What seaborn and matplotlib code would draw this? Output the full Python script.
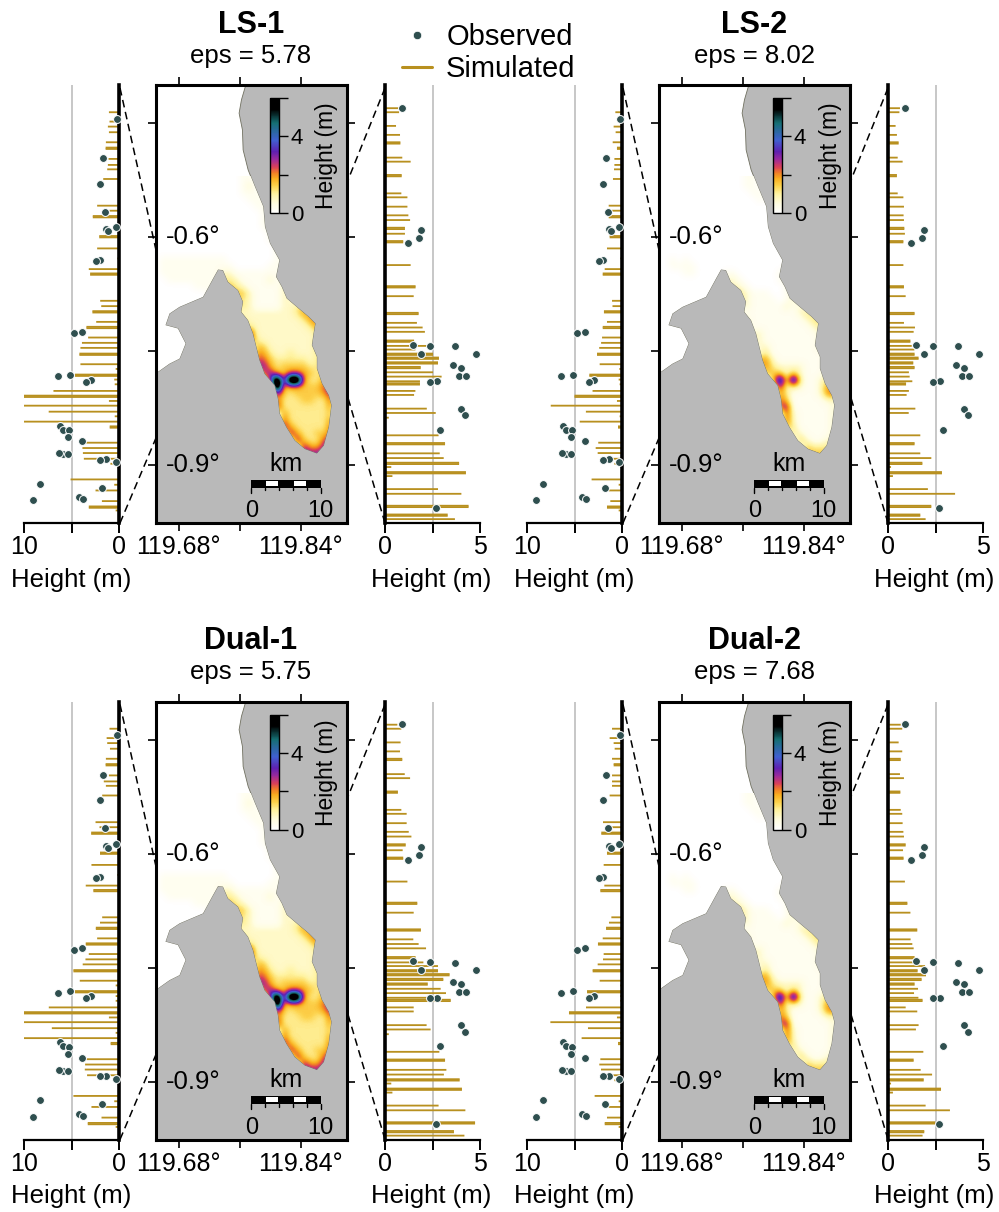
import numpy as np
import pandas as pd
import seaborn as sns
import matplotlib
matplotlib.use("Agg")
import matplotlib.pyplot as plt
from matplotlib.cm import ScalarMappable
from matplotlib.colors import LinearSegmentedColormap, Normalize
from matplotlib.lines import Line2D
from matplotlib.patches import Polygon, Rectangle

# ---------------------------------------------------------------------
# data
# ---------------------------------------------------------------------
TITLES = ["LS-1", "LS-2", "Dual-1", "Dual-2"]
EPS = [5.78, 8.02, 5.75, 7.68]

# west coast stations: latitude of each bar, 1 = thick bar
LEFT_LAT = [-.4358, -.4481, -.4547, -.4621, -.4753, -.4832, -.4972, -.5051, -.5109, -.5236,
            -.5587, -.5653, -.5732, -.5995, -.6149, -.6281, -.6421, -.6487, -.6838, -.6908,
            -.6983, -.7115, -.7189, -.7321, -.7391, -.7457, -.7541, -.7672, -.7734, -.7817,
            -.7874, -.7936, -.8023, -.8094, -.8155, -.8217, -.8296, -.8357, -.8427, -.8498,
            -.8704, -.8774, -.8840, -.8915, -.8981, -.9187, -.9257, -.9332, -.9472, -.9551, -.9595]
LEFT_THICK = [0, 0, 0, 0, 0, 1, 0, 0, 0, 0,
              0, 0, 1, 1, 0, 0, 0, 1, 0, 0,
              1, 0, 1, 0, 0, 0, 1, 0, 0, 1,
              0, 0, 0, 1, 0, 0, 0, 0, 0, 1,
              0, 0, 0, 0, 0, 0, 0, 0, 0, 1, 0]
LEFT_LS1 = [1.06, 1.0, 1.17, 1.06, 1.38, 1.41, 1.1, 1.17, 1.24, 1.66,
            2.3, 1.0, 2.76, 2.08, 2.3, .18, 3.18, 3.04, 1.98, 1.87,
            2.8, 2.4, 3.43, 3.25, 3.9, 4.06, 4.17, 4.06, .35, 4.63,
            .5, .45, 6.9, 10, 1.06, 10, 7.4, .45, 10, .98,
            3.46, 3.85, 3.8, 3.7, .9, 5.1, .5, 2.47, 1.8, 3.18, .35]
LEFT_LS2 = [.7, .35, .88, .67, .98, .53, .8, .8, .84, .95,
            1.4, 1.05, 1.4, 1.3, 1.58, .18, 1.82, 2.03, 1.05, 1.0,
            1.9, 1.58, 2.03, 2.1, 2.2, 2.4, 2.63, 2.35, .28, 3.44,
            .35, .25, 3.1, 5.0, .53, 7.5, 3.8, .25, 4.45, .42,
            2.5, 2.77, 2.56, 2.28, .8, 3.2, .35, 1.4, 1.23, 1.58, .35]
LEFT_DUAL1 = [1.0, 1.3, 1.24, .95, 1.38, 1.41, 1.06, 1.6, 1.38, 1.77,
              2.47, 2.05, 2.93, 2.0, 2.9, .18, 3.5, 2.7, 1.77, 2.0,
              2.44, 2.3, 3.5, 3.18, 3.53, 3.82, 4.8, 4.13, .35, 4.63,
              .35, .35, 7.39, 10, 1.06, 10, 7.07, .35, 10, .88,
              3.43, 3.57, 3.6, 3.36, .64, 4.8, .5, 2.9, 1.84, 3.29, .35]
LEFT_DUAL2 = [1.05, 1.3, .88, .77, 1.05, .88, 1.05, 1.05, 1.05, 1.3,
              2.0, 1.05, 2.18, 1.58, 1.93, .18, 1.86, 2.28, 1.12, 1.37,
              1.68, 2.03, 2.53, 1.93, 2.0, 2.56, 3.09, 2.35, .18, 3.68,
              .18, .18, 3.79, 5.58, .53, 7.54, 3.58, .18, 4.25, .42,
              2.28, 2.39, 2.21, 2.0, .8, 2.88, .35, 1.4, 1.58, 1.82, .35]

# east coast stations
RIGHT_LAT = [-.4305, -.4358, -.4538, -.4656, -.4762, -.4955, -.5008, -.5192, -.5425, -.5477,
             -.5600, -.5714, -.5776, -.5886, -.5956, -.6061, -.6368, -.6654, -.6777, -.7005,
             -.7128, -.7189, -.7246, -.7369, -.7431, -.7479, -.7541, -.7593, -.7655, -.7716,
             -.7778, -.7835, -.7896, -.7931, -.8023, -.8076, -.8138, -.8256, -.8313, -.8375,
             -.8607, -.8717, -.8844, -.8906, -.8976, -.9024, -.9099, -.9143, -.9314, -.9376,
             -.9542, -.9657, -.9709]
RIGHT_THICK = [0, 0, 0, 0, 1, 0, 0, 1, 0, 0,
               0, 0, 0, 1, 0, 1, 0, 1, 0, 1,
               0, 0, 0, 1, 0, 0, 1, 1, 1, 1,
               0, 0, 0, 1, 0, 0, 0, 0, 0, 0,
               0, 1, 0, 0, 1, 0, 1, 0, 0, 0,
               1, 1, 0]
RIGHT_LS1 = [.7, .74, .58, .79, .81, .91, 1.35, .88, .86, 1.18,
             1.18, 1.23, 1.32, 1.05, 1.05, .96, 1.35, 1.61, 1.51, 1.77,
             1.68, 1.98, 2.1, 1.53, 2.2, 1.6, 2.53, 2.84, 2.79, 1.88,
             2.53, 2.98, 1.84, 1.84, 1.6, 1.53, .05, 2.2, 2.67, .2,
             2.82, 3.16, 2.88, 3.09, 3.9, .33, 4.26, .39, 2.79, 4.02,
             4.4, 3.3, 3.68]
RIGHT_LS2 = [.63, .6, .4, .47, .56, .51, .77, .47, .51, .81,
             .84, .82, .84, .86, .89, .81, .81, .84, .93, 1.4,
             .84, 1.42, 1.35, 1.18, 1.25, 1.39, 1.4, 1.61, 1.33, 1.4,
             1.1, 1.14, 1.28, .95, 1.1, .98, .05, 1.44, 1.09, .05,
             1.7, 1.4, 1.7, 2.28, 1.81, .16, 2.84, .26, 2.1, 3.53,
             2.28, 1.7, 1.98]
RIGHT_DUAL1 = [.65, .86, .82, .79, .91, 1.04, 1.32, .68, .86, 1.14,
               1.14, 1.25, 1.39, 1.09, .93, .96, 1.18, 1.7, 1.51, 1.89,
               1.49, 1.77, 2.16, 1.61, 2.02, 2.79, 2.79, 3.4, 3.07, 2.25,
               2.93, 3.21, 2.4, 3.46, 1.51, 1.51, .05, 2.19, 2.4, .2,
               2.86, 3.16, 3.23, 3.1, 3.93, .33, 4.05, .39, 2.82, 4.23,
               4.74, 3.63, 4.18]
RIGHT_DUAL2 = [.67, .75, .56, .75, .67, .63, .84, .65, .67, .75,
               .77, .81, .84, .93, .79, .82, .89, 1.02, 1.18, 1.54,
               1.19, 1.28, 1.35, 1.4, 1.35, 1.95, 1.56, 2.0, 1.77, 1.4,
               1.58, 1.37, 1.6, 1.82, .93, 1.54, .08, 1.61, 1.47, .08,
               1.86, 1.35, 1.72, 2.32, 1.88, .16, 2.79, .26, 1.98, 3.26,
               2.49, 1.91, 1.82]

# observations, same in every panel
OBS_LEFT_LAT = [-.4446, -.4964, -.5297, -.5670, -.5894, -.5868, -.5925, -.6303, -.6316, -.7246,
                -.7264, -.7808, -.7830, -.7879, -.7905, -.8484, -.8533, -.8541, -.8634, -.8686,
                -.8853, -.8840, -.8858, -.8924, -.8928, -.8963, -.9244, -.9297, -.9420, -.9450, -.9459]
OBS_LEFT_H = [.2, 1.66, 1.98, 1.45, 1.38, .35, 1.17, 2.0, 2.37, 3.9,
              4.7, 5.12, 6.4, 2.93, 3.46, 6.18, 5.9, 5.3, 5.4, 3.9,
              5.85, 6.33, 5.4, 1.38, 1.98, .28, 8.3, 1.77, 4.24, 3.78, 9.1]
OBS_RIGHT_LAT = [-.4301, -.5912, -.6013, -.6079, -.7418, -.7426, -.7435, -.7532, -.7532, -.7686,
                 -.7716, -.7822, -.7826, -.7896, -.7905, -.8256, -.8340, -.8533, -.9560]
OBS_RIGHT_H = [.89, 1.89, 1.81, 1.19, 1.49, 2.39, 3.7, 4.79, 1.89, 3.58,
               4.0, 3.89, 4.28, 2.72, 2.39, 4.0, 4.21, 2.89, 2.7]

# coast of the bay
COAST_LON = [119.7680, 119.7623, 119.7592, 119.7636, 119.7645, 119.7711, 119.7799, 119.7909, 119.7931,
             119.7997, 119.8120, 119.8076, 119.8151, 119.8217, 119.8371, 119.8503, 119.8591, 119.8569,
             119.8547, 119.8613, 119.8613, 119.8679, 119.8767, 119.8802, 119.8767, 119.8701, 119.8613,
             119.8459, 119.8327, 119.8217, 119.8129, 119.8107, 119.8063, 119.7931, 119.7865, 119.7777,
             119.7711, 119.7623, 119.7645, 119.7579, 119.7447, 119.7381, 119.7315, 119.7249, 119.7117,
             119.6809, 119.6677, 119.6624, 119.6787, 119.6888, 119.6809, 119.6677, 119.6523, 119.65, 119.65]
COAST_LAT = [-.40, -.4195, -.4371, -.4591, -.4854, -.5117, -.5337, -.5600, -.5864,
             -.6083, -.6303, -.6522, -.6654, -.6808, -.6939, -.7049, -.7137, -.7268,
             -.7422, -.7576, -.7729, -.7927, -.8081, -.8212, -.8498, -.8739, -.8840,
             -.8783, -.8673, -.8498, -.8322, -.8124, -.7949, -.7795, -.7620, -.7268,
             -.7093, -.6983, -.6851, -.6698, -.6588, -.6434, -.6426, -.6544, -.6786,
             -.6917, -.7005, -.7159, -.7203, -.7400, -.7598, -.7664, -.7773, -.7786, -.40]

# map cells, one digit per cell, digit indexes HEAT_LEVELS
HEAT_LEVELS = [0, .25, .7, 1.1, 1.5, 1.9, 2.4, 3.0, 5.0, 8.5]
HEAT_EXTENT = (119.6457, 119.8921, -.8893, -.5205)
HEAT_1 = [
    "0000 0000 0000 0110 0000 0000 0000",
    "0000 0000 0000 0120 0000 0000 0000",
    "0000 0000 0000 0111 0000 0000 0000",
    "0000 0000 0000 0011 1000 0000 0000",
    "0000 0000 0000 0001 1000 0000 0000",
    "0000 0000 0000 0000 1100 0000 0000",
    "0000 0000 0000 0000 1100 0000 0000",
    "0000 0000 0000 0000 1100 0000 0000",
    "0000 0000 0000 0000 0110 0000 0000",
    "0000 0000 0000 0000 0111 0000 0000",
    "0000 0000 0000 0000 0011 0000 0000",
    "0000 0000 0000 0000 0011 1000 0000",
    "0111 1111 1110 0000 0011 1000 0000",
    "0111 1111 1111 0000 0111 1000 0000",
    "0111 1111 1122 1111 1111 1000 0000",
    "0011 1111 1133 2111 1211 1000 0000",
    "0000 0011 1134 3211 1112 2000 0000",
    "0000 0000 1144 4421 1112 2000 0000",
    "0000 0000 0044 4321 1112 2100 0000",
    "0000 0000 0000 3321 1112 2340 0000",
    "0000 0000 0000 2222 2222 2355 5000",
    "0000 0000 0000 2322 2222 2235 6000",
    "0000 0000 0000 0332 2222 2223 5500",
    "0000 0000 0000 0472 2222 2222 3500",
    "0000 0000 0000 0463 2222 2222 3300",
    "0000 0000 0000 0004 4222 2222 3300",
    "0000 0000 0000 0005 5322 3222 3300",
    "0000 0000 0000 0006 6433 3332 3400",
    "0000 0000 0000 0007 7534 4443 3300",
    "0000 0000 0000 0000 6754 6654 3400",
    "0000 0000 0000 0000 0795 9953 3500",
    "0000 0000 0000 0000 0094 5544 4670",
    "0000 0000 0000 0000 0074 3444 4570",
    "0000 0000 0000 0000 0063 3344 3360",
    "0000 0000 0000 0000 0073 3333 3350",
    "0000 0000 0000 0000 0005 3333 3340",
    "0000 0000 0000 0000 0006 3333 3350",
    "0000 0000 0000 0000 0007 5333 3360",
    "0000 0000 0000 0000 0000 7533 4460",
    "0000 0000 0000 0000 0000 0743 3670",
    "0000 0000 0000 0000 0000 0075 5770",
    "0000 0000 0000 0000 0000 0077 7700",
]
HEAT_2 = [
    "0000 0000 0000 0110 0000 0000 0000",
    "0000 0000 0000 0110 0000 0000 0000",
    "0000 0000 0000 0011 0000 0000 0000",
    "0000 0000 0000 0001 0000 0000 0000",
    "0000 0000 0000 0000 0000 0000 0000",
    "0000 0000 0000 0000 0000 0000 0000",
    "0000 0000 0000 0000 0000 0000 0000",
    "0000 0000 0000 0000 0000 0000 0000",
    "0000 0000 0000 0000 0000 0000 0000",
    "0000 0000 0000 0000 0000 0000 0000",
    "0000 0000 0000 0000 0000 0000 0000",
    "0000 0000 0000 0000 0000 0000 0000",
    "0010 1000 0000 0000 0000 0000 0000",
    "0011 1100 0000 0000 0001 0000 0000",
    "0000 1100 0011 0000 0011 0000 0000",
    "0000 0000 0022 1000 0011 1000 0000",
    "0000 0000 0022 2100 0001 1000 0000",
    "0000 0000 0033 3211 1001 2000 0000",
    "0000 0000 0000 3211 1101 2000 0000",
    "0000 0000 0000 1211 1112 1210 0000",
    "0000 0000 0000 1111 1111 1233 3000",
    "0000 0000 0000 1211 1111 1123 4000",
    "0000 0000 0000 0211 1111 1112 3000",
    "0000 0000 0000 0022 1111 1111 2000",
    "0000 0000 0000 0022 1111 1111 2200",
    "0000 0000 0000 0002 2111 1111 2200",
    "0000 0000 0000 0002 3111 1111 1200",
    "0000 0000 0000 0005 5211 1111 1200",
    "0000 0000 0000 0005 5322 2211 1200",
    "0000 0000 0000 0000 4442 4211 1200",
    "0000 0000 0000 0000 0483 8311 2300",
    "0000 0000 0000 0000 0072 3211 2560",
    "0000 0000 0000 0000 0053 1111 2560",
    "0000 0000 0000 0000 0064 1111 1220",
    "0000 0000 0000 0000 0067 1111 1120",
    "0000 0000 0000 0000 0006 2111 1120",
    "0000 0000 0000 0000 0006 2111 1120",
    "0000 0000 0000 0000 0004 3111 1120",
    "0000 0000 0000 0000 0000 3211 1120",
    "0000 0000 0000 0000 0000 0421 1220",
    "0000 0000 0000 0000 0000 0043 3330",
    "0000 0000 0000 0000 0000 0044 4400",
]

CMAP_STOPS = [0, .5, 1.0, 1.4, 1.8, 2.1, 2.4, 2.8, 3.2, 3.8, 4.7, 5.4, 6]
CMAP_COLORS = ["#ffffff", "#fffde0", "#fff3a0", "#fdd44f", "#f9ae20", "#f07c28", "#d9405a",
               "#9b2a9c", "#5f20b0", "#4060d0", "#156f73", "#000000", "#000000"]

GOLD = "#b8901f"
OBS_COLOR = "#2f4f4f"
LAND = "#b9b9b9"
W, H = 999, 1212
FONT = ["Liberation Sans", "DejaVu Sans"]

sns.set_style("ticks")
plt.rcParams["font.family"] = FONT
plt.rcParams.update({"text.color": "black", "axes.edgecolor": "black", "xtick.color": "black",
                     "ytick.color": "black", "axes.labelcolor": "black"})
heat_cmap = LinearSegmentedColormap.from_list("heat", [(s / 6, c) for s, c in zip(CMAP_STOPS, CMAP_COLORS)])

fig = plt.figure(figsize=(W / 100, H / 100), dpi=100)


def px_axes(left, top, right, bottom):
    return fig.add_axes([left / W, 1 - bottom / H, (right - left) / W, (bottom - top) / H])


def px_text(x, y, s, **kw):
    fig.text(x / W, 1 - y / H, s, ha="center", va="center", **kw)


def px_dash(x0, y0, x1, y1):
    fig.add_artist(Line2D([x0 / W, x1 / W], [1 - y0 / H, 1 - y1 / H], color="black", lw=1.1,
                          ls=(0, (5, 3))))


def draw_bars(ax, lats, thick, values, obs_lat, obs_h):
    # a thick bar is two rows next to each other
    rows = []
    for lat, t, v in zip(lats, thick, values):
        if t:
            rows += [(lat - 0.0009, v), (lat + 0.0009, v)]
        else:
            rows.append((lat, v))
    df = pd.DataFrame(rows, columns=["lat", "height"])
    spacing = np.diff(np.sort(df["lat"].values)).min()
    sns.barplot(data=df, x="height", y="lat", orient="y", native_scale=True, color=GOLD, saturation=1,
                width=0.0024 / spacing, errorbar=None, linewidth=0, ax=ax)
    for bar in ax.patches:
        bar.set_snap(False)
    sns.scatterplot(x=obs_h, y=obs_lat, color=OBS_COLOR, s=32, edgecolor="white", linewidth=0.7,
                    ax=ax, zorder=5, clip_on=False)
    ax.set_ylim(-0.976, -0.4)
    ax.set_xlabel("")
    ax.set_ylabel("")
    ax.set_yticks([])
    ax.patch.set_alpha(0)
    ax.tick_params(axis="x", length=7, width=1.4, pad=2, labelsize=18)


def draw_left(x0, y0, values):
    ax = px_axes(x0 + 24, y0 + 85, x0 + 119, y0 + 523)
    ax.axvline(5, color="#bdbdbd", lw=1.2, zorder=0)
    draw_bars(ax, LEFT_LAT, LEFT_THICK, values, OBS_LEFT_LAT, OBS_LEFT_H)
    ax.set_xlim(10, 0)
    ax.set_xticks([10, 5, 0], ["10", "", "0"])
    sns.despine(ax=ax, left=True, top=True, right=False)
    ax.spines["right"].set_linewidth(2.6)
    ax.spines["bottom"].set_linewidth(1.6)
    px_text(x0 + 71, y0 + 580, "Height (m)", fontsize=18.5)


def draw_right(x0, y0, values):
    ax = px_axes(x0 + 385, y0 + 85, x0 + 480, y0 + 523)
    ax.axvline(2.5, color="#bdbdbd", lw=1.2, zorder=0)
    draw_bars(ax, RIGHT_LAT, RIGHT_THICK, values, OBS_RIGHT_LAT, OBS_RIGHT_H)
    ax.set_xlim(0, 5)
    ax.set_xticks([0, 2.5, 5], ["0", "", "5"])
    sns.despine(ax=ax, left=False, top=True, right=True)
    ax.spines["left"].set_linewidth(2.6)
    ax.spines["bottom"].set_linewidth(1.6)
    px_text(x0 + 431, y0 + 580, "Height (m)", fontsize=18.5)


def draw_map(x0, y0, heat):
    ax = px_axes(x0 + 156, y0 + 85, x0 + 347, y0 + 523)
    ax.set_facecolor(LAND)
    bay = Polygon(np.column_stack([COAST_LON, COAST_LAT]), closed=True, facecolor="white",
                  edgecolor="#707060", lw=0.6, zorder=1)
    ax.add_patch(bay)
    cells = np.array([[HEAT_LEVELS[int(c)] for c in row.replace(" ", "")] for row in heat])
    im = ax.imshow(cells, extent=HEAT_EXTENT, origin="upper", cmap=heat_cmap, vmin=0, vmax=6,
                   interpolation="bicubic", aspect="auto", zorder=2)
    im.set_clip_path(bay)
    ax.set_xlim(119.65, 119.901)
    ax.set_ylim(-0.976, -0.4)
    ax.set_xticks([119.68, 119.76, 119.84], ["119.68°", "", "119.84°"])
    ax.set_yticks([-0.45, -0.6, -0.75, -0.9], [])
    ax.tick_params(top=True, right=True, length=6, width=1.2, pad=3, labelsize=18)
    for sp in ax.spines.values():
        sp.set_linewidth(2.2)
    ax.text(119.6985, -0.6, "-0.6°", fontsize=18.5, ha="center", va="center", zorder=4)
    ax.text(119.6985, -0.9, "-0.9°", fontsize=18.5, ha="center", va="center", zorder=4)

    # scale bar
    lon0, step = 119.7751, 0.0183
    for i in range(5):
        ax.add_patch(Rectangle((lon0 + i * step, -0.9296), step, 0.0105, fc="black", ec="none", zorder=3))
        if i % 2:
            ax.add_patch(Rectangle((lon0 + i * step + .001, -0.9272), step - .002, 0.0065, fc="white",
                                   ec="none", zorder=4))
    for i in range(6):
        ax.plot([lon0 + i * step] * 2, [-0.9296, -0.936 if i in (0, 5) else -0.933], color="black",
                lw=1, zorder=3, clip_on=False)
    ax.text(lon0 + 2.5 * step, -0.898, "km", fontsize=18, ha="center", va="center", zorder=4)
    ax.text(lon0, -0.9605, "0", fontsize=17, ha="center", va="center", zorder=4)
    ax.text(lon0 + 5 * step, -0.9605, "10", fontsize=17, ha="center", va="center", zorder=4)

    # colour bar
    cax = px_axes(x0 + 270, y0 + 98, x0 + 279, y0 + 213)
    cb = fig.colorbar(ScalarMappable(Normalize(0, 6), heat_cmap), cax=cax)
    cb.set_ticks([0, 2, 4, 6], labels=["0", "", "4", ""])
    cb.ax.tick_params(length=6.5, width=1, pad=2, labelsize=16, direction="out")
    cb.outline.set_linewidth(1)
    px_text(x0 + 327, y0 + 156, "Height (m)", fontsize=16.5, rotation=90)


left_series = [LEFT_LS1, LEFT_LS2, LEFT_DUAL1, LEFT_DUAL2]
right_series = [RIGHT_LS1, RIGHT_LS2, RIGHT_DUAL1, RIGHT_DUAL2]
heat_maps = [HEAT_1, HEAT_2, HEAT_1, HEAT_2]

for i, name in enumerate(TITLES):
    x0 = 503 * (i % 2)
    y0 = 616.5 * (i // 2)
    draw_left(x0, y0, left_series[i])
    draw_map(x0, y0, heat_maps[i])
    draw_right(x0, y0, right_series[i])
    px_text(x0 + 251, y0 + 25, name, fontsize=22, fontweight="bold")
    px_text(x0 + 251, y0 + 56, f"eps = {EPS[i]:.2f}", fontsize=18.5)
    px_dash(x0 + 120, y0 + 88, x0 + 156, y0 + 250)
    px_dash(x0 + 120, y0 + 523, x0 + 156, y0 + 438)
    px_dash(x0 + 385, y0 + 88, x0 + 348, y0 + 180)
    px_dash(x0 + 385, y0 + 523, x0 + 348, y0 + 398)

handles = [Line2D([], [], ls="", marker="o", ms=6, color=OBS_COLOR, mec="white", mew=0.5),
           Line2D([], [], color=GOLD, lw=2.2)]
fig.legend(handles, ["Observed", "Simulated"], loc="center", bbox_to_anchor=(489 / W, 1 - 53 / H),
           frameon=False, fontsize=21, handlelength=1.0, handletextpad=0.5, labelspacing=0.12)

fig.savefig("out.png", dpi=100)
